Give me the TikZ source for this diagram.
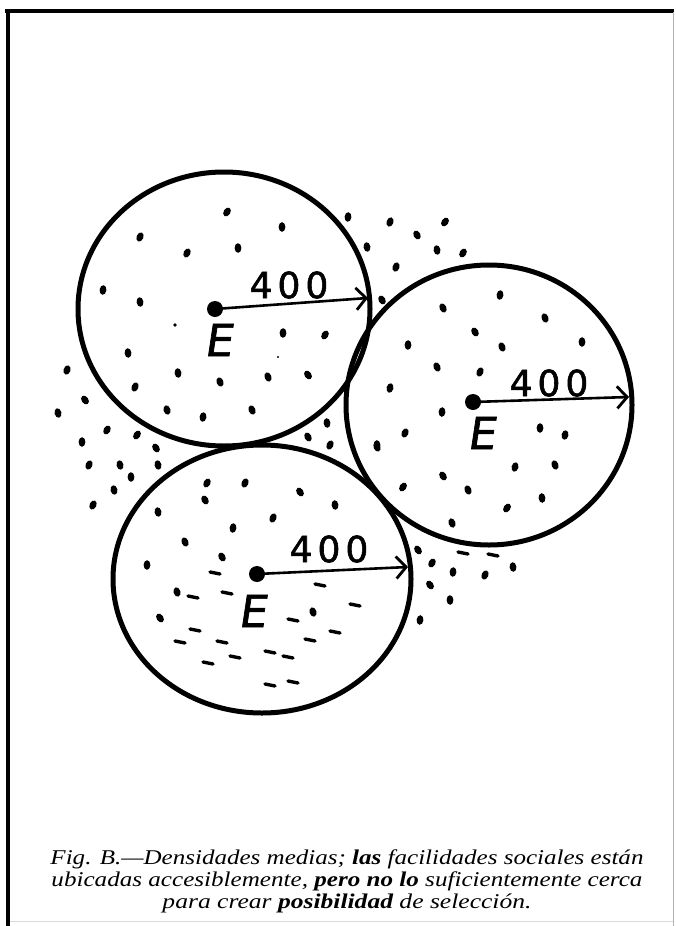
\documentclass[tikz,border=0pt]{standalone}
\usepackage{graphicx}
\usepackage{fontspec}
\setmainfont{Liberation Serif}
\newfontfamily\handfont[LetterSpace=14,FakeBold=1.6]{DejaVu Sans}
\newfontfamily\handletter[FakeSlant=0.15,FakeBold=1.6]{DejaVu Sans}
\usetikzlibrary{arrows.meta}
\begin{document}
\begin{tikzpicture}[x=1pt,y=-1pt,
  frameline/.style={line width=4pt,black},
  rim/.style={line width=5pt,black},
  centerdot/.style={circle,fill=black,inner sep=0pt,minimum size=16pt},
  arr/.style={line width=2.6pt,-{Straight Barb[length=10pt,width=22pt,line width=2.8pt]}},
  numlabel/.style={font=\handfont\fontsize{36}{36}\selectfont,inner sep=0pt},
  letterlabel/.style={font=\handletter\fontsize{44}{44}\selectfont,inner sep=0pt},
  caprow/.style={anchor=base,inner sep=0pt,font=\itshape\fontsize{21}{24}\selectfont},
  dsh/.style={line width=3.4pt,line cap=round}
]
\useasboundingbox (0,0) rectangle (676,926);
\fill[white] (0,0) rectangle (676,926);
% frame
\draw[frameline] (5,11) -- (674,11);
\draw[frameline] (8,9) -- (8,926);
\draw[line width=1pt,gray!60] (673,12) -- (673,926);
\draw[line width=0.8pt,gray!30] (10,921) -- (673,921);

% circles
\draw[rim] (224,309) ellipse [x radius=146, y radius=137];
\draw[rim] (489,405) ellipse [x radius=143, y radius=140];
\draw[rim] (262,579) ellipse [x radius=149, y radius=134];

% dots
\pgfmathsetseed{7}
\foreach \x/\y in {
 227/212,282/227,140/237,187/253,238/248,103/290,140/302,283/333,325/335,
 128/353,178/373,220/382,268/377,308/375,135/387,167/410,203/417,252/410,
 500/295,443/308,545/318,475/332,502/347,408/345,582/342,437/367,480/372,
 390/388,442/412,540/428,565/435,405/433,377/447,515/467,555/465,443/476,
 468/490,403/487,542/498,507/508,452/523,382/300,
 207/483,245/483,300/492,205/500,335/505,158/512,273/518,233/528,185/542,
 222/557,147/565,177/592,313/612,160/618,
 348/217,390/222,445/222,417/235,367/247,437/250,463/253,396/267,
 327/423,308/437,330/445,377/445,
 67/370,85/400,58/413,107/430,82/442,137/435,156/448,89/465,120/465,
 158/465,131/477,114/490,93/505,
 432/563,430/585,420/620,418/550,513/567,453/572,485/575,450/600}
{
  \pgfmathsetmacro\ang{random(0,70)-35}
  \fill[rotate around={\ang:(\x,\y)}] (\x,\y) ellipse [x radius=3.4pt, y radius=4.8pt];
}
\fill (175,325) circle (1.8pt);
\fill (278,357) circle (1.2pt);

% dashes in lower circle
\foreach \x/\y in {215/573,193/597,227/593,320/585,355/605,293/620,195/630,
 335/632,310/640,180/642,222/642,270/652,288/657,235/657,208/663,270/685,
 293/682,463/553,493/555}
{
  \draw[dsh] (\x-5,\y-1) -- (\x+5,\y+1);
}

% centres and radii
\node[centerdot] (c1) at (215,309) {};
\node[centerdot] (c2) at (473,402) {};
\node[centerdot] (c3) at (257,574) {};
\coordinate (e1) at (368,298);
\coordinate (e2) at (629,397);
\coordinate (e3) at (408,567);
\draw[arr] (c1.center) -- (e1);
\draw[arr] (c2.center) -- (e2);
\draw[arr] (c3.center) -- (e3);

\node[numlabel] (n1) at (289,285) {400};
\node[numlabel] (n2) at (549,383) {400};
\node[numlabel] (n3) at (329,549) {400};

\node[letterlabel] (l1) at (218,340) {E};
\node[letterlabel] (l2) at (481,433) {E};
\node[letterlabel] (l3) at (252,611) {E};

% caption
\node[caprow] (cap1) at (347,864) {\resizebox{593pt}{\height}{Fig. B.—Densidades medias; \textbf{las} facilidades sociales están}};
\node[caprow] (cap2) at (347,886) {\resizebox{591pt}{\height}{ubicadas accesiblemente, \textbf{pero no lo} suficientemente cerca}};
\node[caprow] (cap3) at (347,908) {\resizebox{369pt}{\height}{para crear \textbf{posibilidad} de selección.}};
\end{tikzpicture}
\end{document}
